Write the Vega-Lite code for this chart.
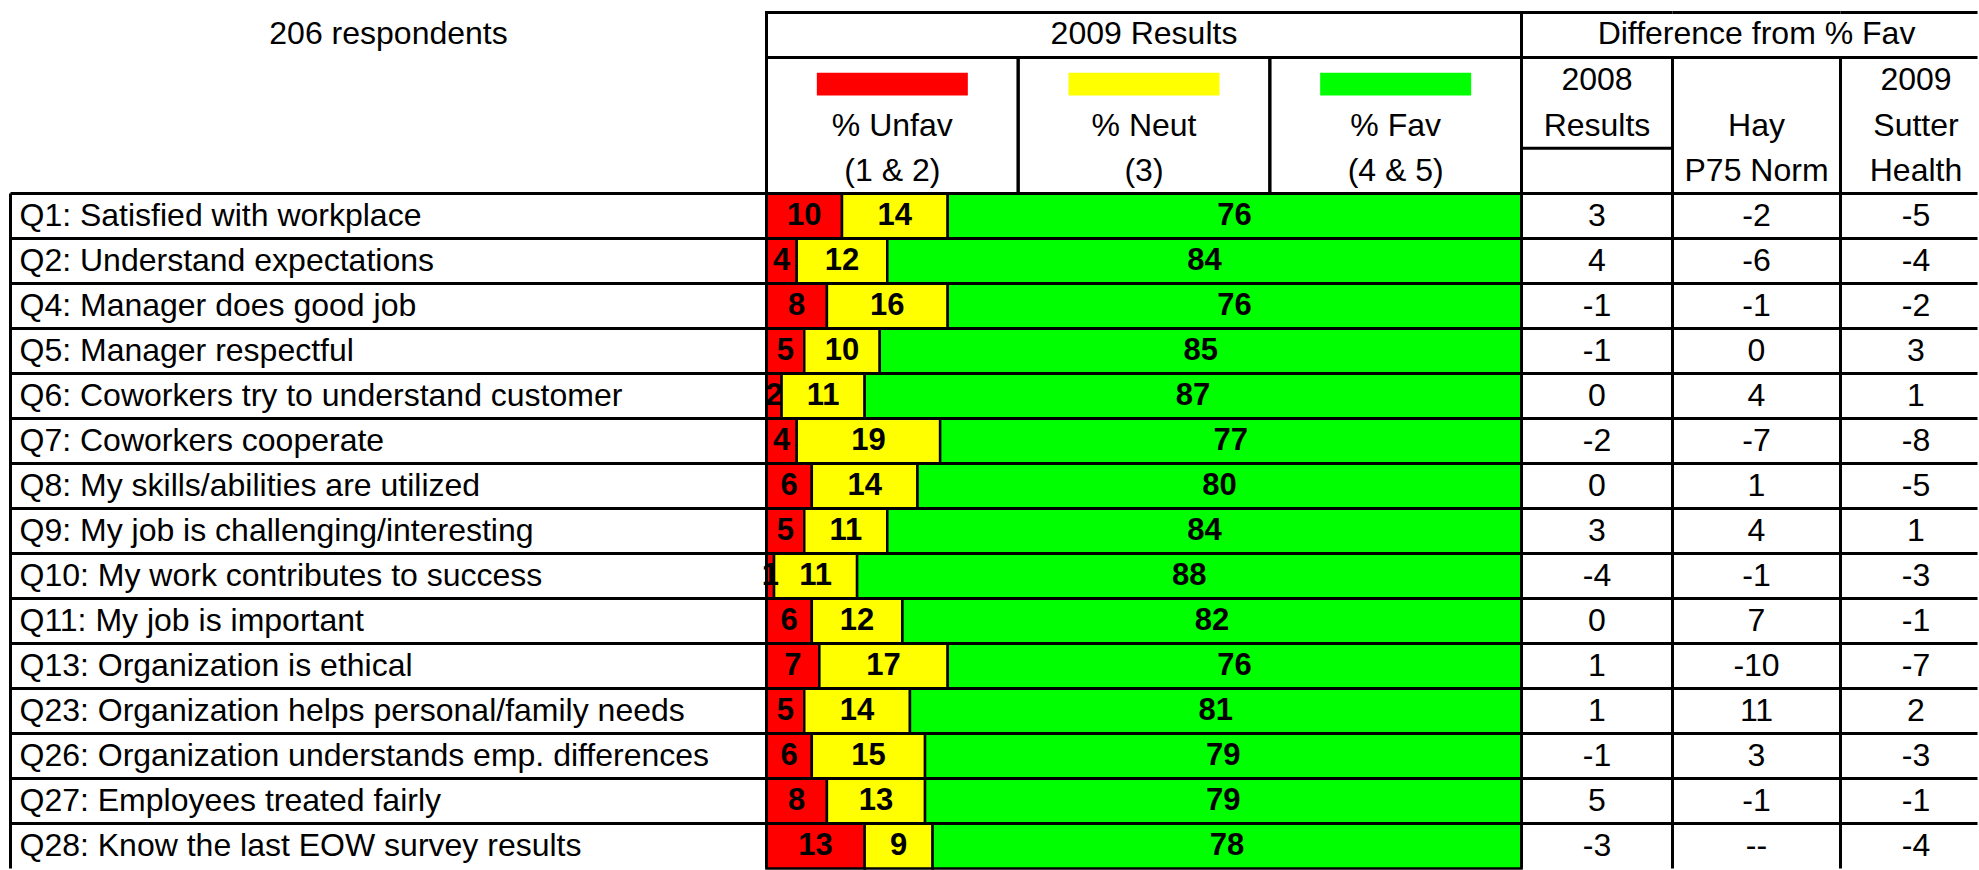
{
  "$schema": "https://vega.github.io/schema/vega-lite/v6.json",
  "padding": {"left": 8.5, "top": 10.5, "right": 0, "bottom": 0},
  "background": "white",
  "spacing": 0,
  "bounds": "flush",
  "columns": 5,
  "config": {
    "view": {"stroke": null},
    "font": "Liberation Sans",
    "text": {"font": "Liberation Sans", "fontSize": 32, "fill": "black", "baseline": "middle"},
    "rule": {"stroke": "black", "strokeWidth": 3}
  },
  "datasets": {
    "rows": [
      {"q": "Q1: Satisfied with workplace", "Unfav": 10, "Neut": 14, "Fav": 76, "d2008": 3, "hay": -2, "sutter": -5},
      {"q": "Q2: Understand expectations", "Unfav": 4, "Neut": 12, "Fav": 84, "d2008": 4, "hay": -6, "sutter": -4},
      {"q": "Q4: Manager does good job", "Unfav": 8, "Neut": 16, "Fav": 76, "d2008": -1, "hay": -1, "sutter": -2},
      {"q": "Q5: Manager respectful", "Unfav": 5, "Neut": 10, "Fav": 85, "d2008": -1, "hay": 0, "sutter": 3},
      {"q": "Q6: Coworkers try to understand customer", "Unfav": 2, "Neut": 11, "Fav": 87, "d2008": 0, "hay": 4, "sutter": 1},
      {"q": "Q7: Coworkers cooperate", "Unfav": 4, "Neut": 19, "Fav": 77, "d2008": -2, "hay": -7, "sutter": -8},
      {"q": "Q8: My skills/abilities are utilized", "Unfav": 6, "Neut": 14, "Fav": 80, "d2008": 0, "hay": 1, "sutter": -5},
      {"q": "Q9: My job is challenging/interesting", "Unfav": 5, "Neut": 11, "Fav": 84, "d2008": 3, "hay": 4, "sutter": 1},
      {"q": "Q10: My work contributes to success", "Unfav": 1, "Neut": 11, "Fav": 88, "d2008": -4, "hay": -1, "sutter": -3},
      {"q": "Q11: My job is important", "Unfav": 6, "Neut": 12, "Fav": 82, "d2008": 0, "hay": 7, "sutter": -1},
      {"q": "Q13: Organization is ethical", "Unfav": 7, "Neut": 17, "Fav": 76, "d2008": 1, "hay": -10, "sutter": -7},
      {"q": "Q23: Organization helps personal/family needs", "Unfav": 5, "Neut": 14, "Fav": 81, "d2008": 1, "hay": 11, "sutter": 2},
      {"q": "Q26: Organization understands emp. differences", "Unfav": 6, "Neut": 15, "Fav": 79, "d2008": -1, "hay": 3, "sutter": -3},
      {"q": "Q27: Employees treated fairly", "Unfav": 8, "Neut": 13, "Fav": 79, "d2008": 5, "hay": -1, "sutter": -1},
      {"q": "Q28: Know the last EOW survey results", "Unfav": 13, "Neut": 9, "Fav": 78, "d2008": -3, "hay": "--", "sutter": -4}
    ],
    "one": [{}]
  },
  "concat": [
    {
      "width": 756, "height": 45,
      "data": {"values": [{"t": "206 respondents"}]},
      "mark": {"type": "text", "fontSize": 32, "dy": -1},
      "encoding": {"text": {"field": "t", "type": "nominal"}}
    },
    {
      "width": 755, "height": 45,
      "view": {"stroke": "black", "strokeWidth": 3},
      "data": {"values": [{"t": "2009 Results"}]},
      "mark": {"type": "text", "fontSize": 32, "dy": -1},
      "encoding": {"text": {"field": "t", "type": "nominal"}}
    },
    {
      "width": 151, "height": 45,
      "data": {"name": "one"},
      "layer": [
        {"mark": {"type": "rule"}, "encoding": {"y": {"value": 0}}},
        {"mark": {"type": "rule"}, "encoding": {"y": {"value": "height"}}}
      ]
    },
    {
      "width": 168, "height": 45,
      "layer": [
        {"data": {"name": "one"}, "mark": {"type": "rule"}, "encoding": {"y": {"value": 0}}},
        {"data": {"name": "one"}, "mark": {"type": "rule"}, "encoding": {"y": {"value": "height"}}},
        {
          "data": {"values": [{"t": "Difference from % Fav"}]},
          "mark": {"type": "text", "fontSize": 32, "dy": -1},
          "encoding": {"text": {"field": "t", "type": "nominal"}}
        }
      ]
    },
    {
      "width": 137, "height": 45,
      "data": {"name": "one"},
      "layer": [
        {"mark": {"type": "rule"}, "encoding": {"y": {"value": 0}}},
        {"mark": {"type": "rule"}, "encoding": {"y": {"value": "height"}}}
      ]
    },
    {
      "width": 756, "height": 136,
      "data": {"name": "one"},
      "mark": {"type": "text"},
      "encoding": {"text": {"value": ""}}
    },
    {
      "width": 755, "height": 136,
      "view": {"stroke": "black", "strokeWidth": 3},
      "layer": [
        {
          "data": {"values": [{"cat": "Unfav"}, {"cat": "Neut"}, {"cat": "Fav"}]},
          "mark": {"type": "rect", "fill": "transparent", "stroke": "black", "strokeWidth": 3},
          "encoding": {
            "x": {"field": "cat", "type": "nominal", "sort": null, "scale": {"domain": ["Unfav", "Neut", "Fav"], "paddingInner": 0, "paddingOuter": 0}, "axis": null}
          }
        },
        {
          "data": {"values": [{"cat": "Unfav", "line": "l1"}, {"cat": "Neut", "line": "l1"}, {"cat": "Fav", "line": "l1"}]},
          "mark": {"type": "rect", "width": {"band": 0.6}, "height": {"band": 0.5}, "yOffset": 4},
          "encoding": {
            "x": {"field": "cat", "type": "nominal", "sort": null, "scale": {"domain": ["Unfav", "Neut", "Fav"], "paddingInner": 0, "paddingOuter": 0}, "axis": null},
            "y": {"field": "line", "type": "nominal", "scale": {"domain": ["l1", "l2", "l3"], "paddingInner": 0, "paddingOuter": 0}, "axis": null},
            "color": {"field": "cat", "type": "nominal", "scale": {"domain": ["Unfav", "Neut", "Fav"], "range": ["#FF0000", "#FFFF00", "#00FF00"]}, "legend": null}
          }
        },
        {
          "data": {"values": [
            {"cat": "Unfav", "line": "l2", "t": "% Unfav"},
            {"cat": "Unfav", "line": "l3", "t": "(1 & 2)"},
            {"cat": "Neut", "line": "l2", "t": "% Neut"},
            {"cat": "Neut", "line": "l3", "t": "(3)"},
            {"cat": "Fav", "line": "l2", "t": "% Fav"},
            {"cat": "Fav", "line": "l3", "t": "(4 & 5)"}
          ]},
          "mark": {"type": "text", "fontSize": 32},
          "encoding": {
            "x": {"field": "cat", "type": "nominal", "sort": null, "scale": {"domain": ["Unfav", "Neut", "Fav"], "paddingInner": 0, "paddingOuter": 0}, "axis": null},
            "y": {"field": "line", "type": "nominal", "scale": {"domain": ["l1", "l2", "l3"], "paddingInner": 0, "paddingOuter": 0}, "axis": null},
            "text": {"field": "t", "type": "nominal"}
          }
        }
      ]
    },
    {
      "width": 151, "height": 136,
      "view": {"stroke": "black", "strokeWidth": 3},
      "layer": [
        {
          "data": {"values": [{"line": "l3"}]},
          "mark": {"type": "rule"},
          "encoding": {"y": {"field": "line", "type": "nominal", "bandPosition": 0, "scale": {"domain": ["l1", "l2", "l3"], "paddingInner": 0, "paddingOuter": 0}, "axis": null}}
        },
        {
          "data": {"values": [{"line": "l1", "t": "2008"}, {"line": "l2", "t": "Results"}]},
          "mark": {"type": "text", "fontSize": 32},
          "encoding": {
            "y": {"field": "line", "type": "nominal", "scale": {"domain": ["l1", "l2", "l3"], "paddingInner": 0, "paddingOuter": 0}, "axis": null},
            "text": {"field": "t", "type": "nominal"}
          }
        }
      ]
    },
    {
      "width": 168, "height": 136,
      "view": {"stroke": "black", "strokeWidth": 3},
      "data": {"values": [{"line": "l2", "t": "Hay"}, {"line": "l3", "t": "P75 Norm"}]},
      "mark": {"type": "text", "fontSize": 32},
      "encoding": {
        "y": {"field": "line", "type": "nominal", "scale": {"domain": ["l1", "l2", "l3"], "paddingInner": 0, "paddingOuter": 0}, "axis": null},
        "text": {"field": "t", "type": "nominal"}
      }
    },
    {
      "width": 137, "height": 136,
      "data": {"values": [{"line": "l1", "t": "2009"}, {"line": "l2", "t": "Sutter"}, {"line": "l3", "t": "Health"}]},
      "mark": {"type": "text", "fontSize": 32, "dx": 7},
      "encoding": {
        "y": {"field": "line", "type": "nominal", "scale": {"domain": ["l1", "l2", "l3"], "paddingInner": 0, "paddingOuter": 0}, "axis": null},
        "text": {"field": "t", "type": "nominal"}
      }
    },
    {
      "width": 756, "height": 675,
      "layer": [
        {
          "data": {"name": "rows"},
          "mark": {"type": "rule"},
          "encoding": {"y": {"field": "q", "type": "nominal", "sort": null, "bandPosition": 0, "scale": {"paddingInner": 0, "paddingOuter": 0}, "axis": null}}
        },
        {"data": {"name": "one"}, "mark": {"type": "rule"}, "encoding": {"x": {"value": 0}}},
        {
          "data": {"name": "rows"},
          "mark": {"type": "text", "fontSize": 32, "align": "left", "dx": 9},
          "encoding": {
            "x": {"value": 0},
            "y": {"field": "q", "type": "nominal", "sort": null, "scale": {"paddingInner": 0, "paddingOuter": 0}, "axis": null},
            "text": {"field": "q", "type": "nominal"}
          }
        }
      ]
    },
    {
      "width": 755, "height": 675,
      "data": {"name": "rows"},
      "transform": [
        {"fold": ["Unfav", "Neut", "Fav"], "as": ["key", "value"]},
        {"stack": "value", "groupby": ["q"], "sort": [{"field": "key", "order": "descending"}], "as": ["v0", "v1"]}
      ],
      "layer": [
        {
          "mark": {"type": "bar", "stroke": "black", "strokeWidth": 2.5},
          "encoding": {
            "y": {"field": "q", "type": "nominal", "sort": null, "scale": {"paddingInner": 0, "paddingOuter": 0}, "axis": null},
            "x": {"field": "v0", "type": "quantitative", "scale": {"domain": [0, 100], "nice": false, "zero": false}, "axis": null},
            "x2": {"field": "v1"},
            "color": {"field": "key", "type": "nominal", "scale": {"domain": ["Unfav", "Neut", "Fav"], "range": ["#FF0000", "#FFFF00", "#00FF00"]}, "legend": null}
          }
        },
        {
          "transform": [
            {"fold": ["v0", "v1"], "as": ["edge", "pos"]},
            {"aggregate": [{"op": "mean", "field": "pos", "as": "mid"}], "groupby": ["q", "key", "value"]}
          ],
          "mark": {"type": "text", "fontSize": 31, "fontWeight": "bold"},
          "encoding": {
            "y": {"field": "q", "type": "nominal", "sort": null, "scale": {"paddingInner": 0, "paddingOuter": 0}, "axis": null},
            "x": {"field": "mid", "type": "quantitative", "scale": {"domain": [0, 100], "nice": false, "zero": false}, "axis": null},
            "text": {"field": "value", "type": "nominal"}
          }
        },
        {
          "mark": {"type": "rule"},
          "encoding": {"y": {"field": "q", "type": "nominal", "sort": null, "bandPosition": 0, "scale": {"paddingInner": 0, "paddingOuter": 0}, "axis": null}}
        },
        {"data": {"name": "one"}, "mark": {"type": "rule"}, "encoding": {"x": {"value": 0}}}
      ]
    },
    {
      "width": 151, "height": 675,
      "data": {"name": "rows"},
      "layer": [
        {"mark": {"type": "rule"}, "encoding": {"y": {"field": "q", "type": "nominal", "sort": null, "bandPosition": 0, "scale": {"paddingInner": 0, "paddingOuter": 0}, "axis": null}}},
        {"data": {"name": "one"}, "mark": {"type": "rule"}, "encoding": {"x": {"value": 0}}},
        {
          "mark": {"type": "text", "fontSize": 32},
          "encoding": {
            "y": {"field": "q", "type": "nominal", "sort": null, "scale": {"paddingInner": 0, "paddingOuter": 0}, "axis": null},
            "text": {"field": "d2008", "type": "nominal"}
          }
        }
      ]
    },
    {
      "width": 168, "height": 675,
      "data": {"name": "rows"},
      "layer": [
        {"mark": {"type": "rule"}, "encoding": {"y": {"field": "q", "type": "nominal", "sort": null, "bandPosition": 0, "scale": {"paddingInner": 0, "paddingOuter": 0}, "axis": null}}},
        {"data": {"name": "one"}, "mark": {"type": "rule"}, "encoding": {"x": {"value": 0}}},
        {
          "mark": {"type": "text", "fontSize": 32},
          "encoding": {
            "y": {"field": "q", "type": "nominal", "sort": null, "scale": {"paddingInner": 0, "paddingOuter": 0}, "axis": null},
            "text": {"field": "hay", "type": "nominal"}
          }
        }
      ]
    },
    {
      "width": 137, "height": 675,
      "data": {"name": "rows"},
      "layer": [
        {"mark": {"type": "rule"}, "encoding": {"y": {"field": "q", "type": "nominal", "sort": null, "bandPosition": 0, "scale": {"paddingInner": 0, "paddingOuter": 0}, "axis": null}}},
        {"data": {"name": "one"}, "mark": {"type": "rule"}, "encoding": {"x": {"value": 0}}},
        {
          "mark": {"type": "text", "fontSize": 32, "dx": 7},
          "encoding": {
            "y": {"field": "q", "type": "nominal", "sort": null, "scale": {"paddingInner": 0, "paddingOuter": 0}, "axis": null},
            "text": {"field": "sutter", "type": "nominal"}
          }
        }
      ]
    }
  ]
}
